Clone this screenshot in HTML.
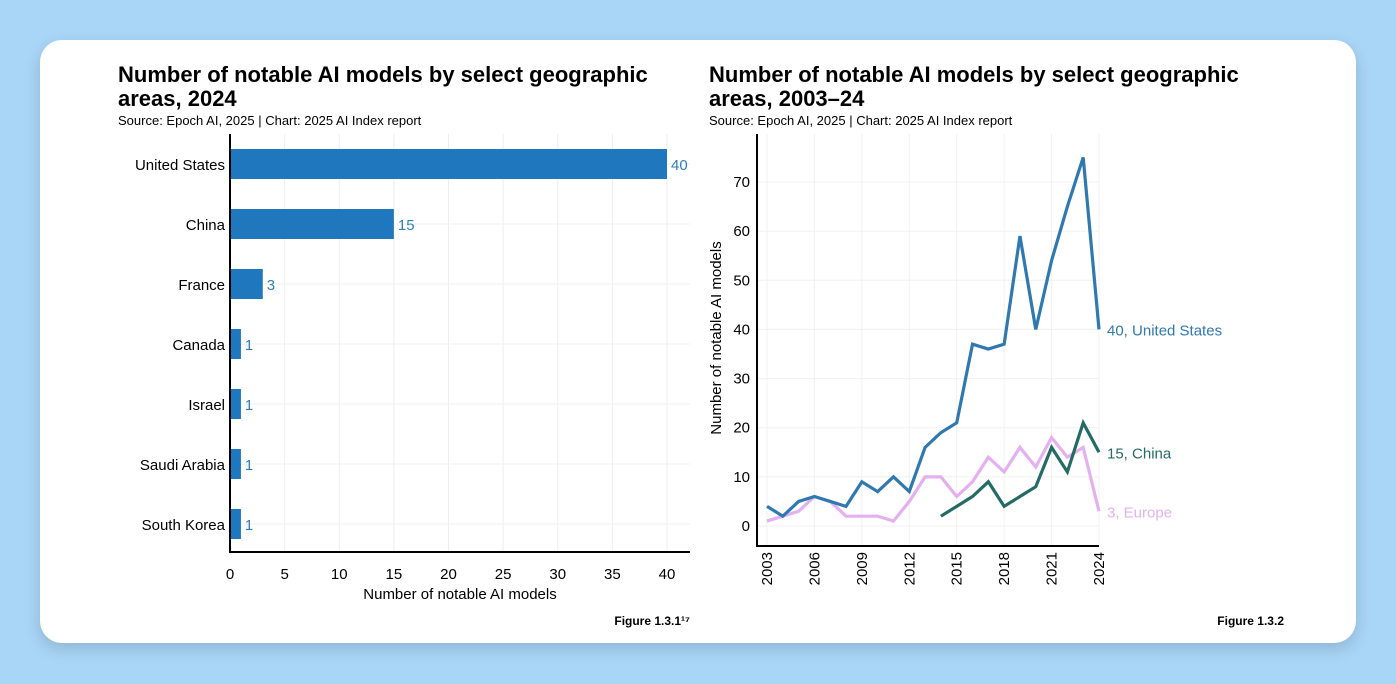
<!DOCTYPE html>
<html><head><meta charset="utf-8">
<style>
body{margin:0;width:1396px;height:684px;background:#a9d5f7;font-family:"Liberation Sans",sans-serif;overflow:hidden}
.card{position:absolute;left:40px;top:40px;width:1316px;height:603px;background:#fff;border-radius:22px;box-shadow:0 6px 16px rgba(0,0,0,0.15)}
svg{position:absolute;left:0;top:0}
</style></head><body>
<div class="card"></div>
<svg width="1396" height="684">
<g id="left">
<text x="118" y="82" font-size="22" font-weight="bold" fill="#000">Number of notable AI models by select geographic</text>
<text x="118" y="106" font-size="22" font-weight="bold" fill="#000">areas, 2024</text>
<text x="118" y="125" font-size="13" fill="#000">Source: Epoch AI, 2025 | Chart: 2025 AI Index report</text>
<text x="690" y="625" font-size="12" font-weight="bold" text-anchor="end">Figure 1.3.1¹⁷</text>
</g>
<g id="right">
<text x="709" y="82" font-size="22" font-weight="bold" fill="#000">Number of notable AI models by select geographic</text>
<text x="709" y="106" font-size="22" font-weight="bold" fill="#000">areas, 2003–24</text>
<text x="709" y="125" font-size="13" fill="#000">Source: Epoch AI, 2025 | Chart: 2025 AI Index report</text>
<text x="1284" y="625" font-size="12" font-weight="bold" text-anchor="end">Figure 1.3.2</text>
</g>
</svg>
<script>
const NS='http://www.w3.org/2000/svg';
const countries=['United States','China','France','Canada','Israel','Saudi Arabia','South Korea'];
const counts=[40,15,3,1,1,1,1];
const xTicks=[0,5,10,15,20,25,30,35,40];
const years=[2003,2004,2005,2006,2007,2008,2009,2010,2011,2012,2013,2014,2015,2016,2017,2018,2019,2020,2021,2022,2023,2024];
const usVals=[4,2,5,6,5,4,9,7,10,7,16,19,21,37,36,37,59,40,54,65,75,40];
const europeVals=[1,2,3,6,5,2,2,2,1,5,10,10,6,9,14,11,16,12,18,14,16,3];
const chinaYears=[2014,2015,2016,2017,2018,2019,2020,2021,2022,2023,2024];
const chinaVals=[2,4,6,9,4,6,8,16,11,21,15];
const yTicks=[0,10,20,30,40,50,60,70];
const yearTicks=[2003,2006,2009,2012,2015,2018,2021,2024];
function mk(t,a,p,txt){const e=document.createElementNS(NS,t);for(const k in a)e.setAttribute(k,a[k]);if(txt!==undefined)e.textContent=txt;p.appendChild(e);return e;}
const L=document.getElementById('left'),R=document.getElementById('right');
// left chart
const bx=v=>230+v*(667-230)/40, by=i=>164+i*60;
xTicks.forEach(t=>{const g=mk('line',{x1:bx(t),x2:bx(t),y1:134,y2:552,stroke:'#eee'},L);

const l=mk('text',{x:bx(t),y:579,'font-size':15,'text-anchor':'middle'},L,t);
});
countries.forEach((c,i)=>{const g=mk('line',{x1:230,x2:690,y1:by(i),y2:by(i),stroke:'#f2f2f2'},L);
});
countries.forEach((c,i)=>{
const b=mk('rect',{x:230,y:by(i)-15,width:bx(counts[i])-230,height:30,fill:'#1f77bd'},L);

const v=mk('text',{x:bx(counts[i])+4,y:by(i)+6,'font-size':15,fill:'#2f7fb5'},L,counts[i]);

const n=mk('text',{x:225,y:by(i)+6,'font-size':15,'text-anchor':'end'},L,c);
});
let a=mk('line',{x1:230,x2:230,y1:134,y2:552,stroke:'#000','stroke-width':2},L);

a=mk('line',{x1:229,x2:690,y1:552,y2:552,stroke:'#000','stroke-width':2},L);

a=mk('text',{x:460,y:599,'font-size':15,'text-anchor':'middle'},L,'Number of notable AI models');

// right chart
const lx=y=>767+(y-2003)*(1099-767)/21, ly=v=>526-v*(526-182)/70;
yTicks.forEach(t=>{const g=mk('line',{x1:757,x2:1099,y1:ly(t),y2:ly(t),stroke:'#f0f0f0'},R);

const l=mk('text',{x:750,y:ly(t)+5,'font-size':15,'text-anchor':'end'},R,t);
});
yearTicks.forEach(t=>{const g=mk('line',{x1:lx(t),x2:lx(t),y1:134,y2:546,stroke:'#f0f0f0'},R);

const l=mk('text',{x:0,y:0,'font-size':15,'text-anchor':'end',transform:`translate(${lx(t)+5},552) rotate(-90)`},R,t);
});
a=mk('line',{x1:757,x2:757,y1:134,y2:547,stroke:'#000','stroke-width':2},R);

a=mk('line',{x1:756,x2:1099,y1:546,y2:546,stroke:'#000','stroke-width':2},R);

a=mk('text',{x:0,y:0,'font-size':15,'text-anchor':'middle',transform:'translate(721,338) rotate(-90)'},R,'Number of notable AI models');

function line(xs,vs,color,name,label){
const p=mk('polyline',{points:xs.map((y,i)=>lx(y)+','+ly(vs[i])).join(' '),fill:'none',stroke:color,'stroke-width':3.2,'stroke-linejoin':'miter'},R);

const t=mk('text',{x:1107,y:ly(vs[vs.length-1])+6,'font-size':15,fill:color},R,label);
}
line(years,europeVals,'#e4b0ef','line-europe',europeVals[europeVals.length-1]+', Europe');
line(chinaYears,chinaVals,'#246b66','line-china',chinaVals[chinaVals.length-1]+', China');
line(years,usVals,'#2f78b0','line-united-states',usVals[usVals.length-1]+', United States');
</script>
</body></html>
